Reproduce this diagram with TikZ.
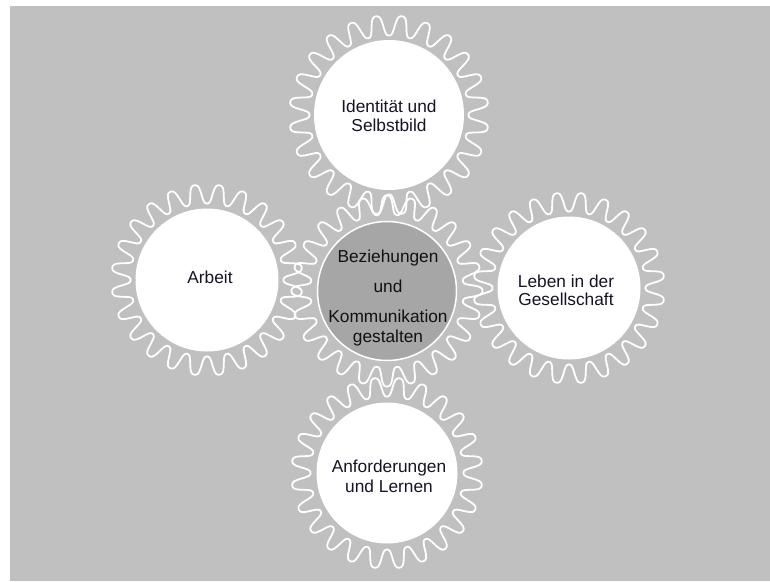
\documentclass[tikz,border=0pt]{standalone}
\usepackage{fontspec}
\setmainfont{Liberation Sans}
\definecolor{bg}{RGB}{192,192,192}
\definecolor{hub}{RGB}{166,166,166}
\definecolor{txt}{RGB}{20,20,38}
\definecolor{hubtxt}{RGB}{17,17,17}
\newcommand\gearring[4]{% cx cy rmid amp
  \draw[gearline] plot[domain=0:360, samples=577, variable=\t]
    ({#1+(#3+(#4)*gf(\t))*cos(\t)}, {#2+(#3+(#4)*gf(\t))*sin(\t)}) -- cycle;}
\begin{document}
\begin{tikzpicture}[x=1pt,y=-1pt,
  gearline/.style={draw=white, line width=1.8pt, line join=round},
  disc/.style={circle, fill=white, inner sep=0pt},
  lbl/.style={font=\fontsize{17.3}{19}\selectfont, text=txt, anchor=base, inner sep=0pt},
  hublbl/.style={lbl, text=hubtxt},
  declare function={gf(\t)=tanh(1.5*cos(24*\t))/tanh(1.5);}
]
\useasboundingbox (0,0) rectangle (770,581);
\fill[bg] (10,6) rectangle (770,581);

% gear rings
\gearring{389}{115}{89.5}{-10}
\gearring{207}{280}{86}{-9.5}
\gearring{569}{288}{86}{-9.5}
\gearring{387}{473}{86}{-9.5}
\gearring{387}{291}{86}{9.5}

% discs
\node[disc, minimum size=150pt] (top) at (389,115) {};
\node[disc, minimum size=143pt] (left) at (207,280) {};
\node[disc, minimum size=143pt] (right) at (569,288) {};
\node[disc, minimum size=141pt] (bottom) at (387,473) {};
\node[disc, fill=hub, draw=white, line width=1.5pt, minimum size=139pt] (hub) at (387,291) {};

% labels
\node[lbl] (t1) at (389,112) {Identität und};
\node[lbl] (t2) at (389,131) {Selbstbild};
\node[lbl] (l1) at (210,283) {Arbeit};
\node[lbl] (r1) at (566,287) {Leben in der};
\node[lbl] (r2) at (566,305) {Gesellschaft};
\node[lbl] (b1) at (389,472) {Anforderungen};
\node[lbl] (b2) at (389,492) {und Lernen};
\node[hublbl] (c1) at (388,262) {Beziehungen};
\node[hublbl] (c2) at (388,292) {und};
\node[hublbl] (c3) at (388,322) {Kommunikation};
\node[hublbl] (c4) at (388,342) {gestalten};
\end{tikzpicture}
\end{document}
